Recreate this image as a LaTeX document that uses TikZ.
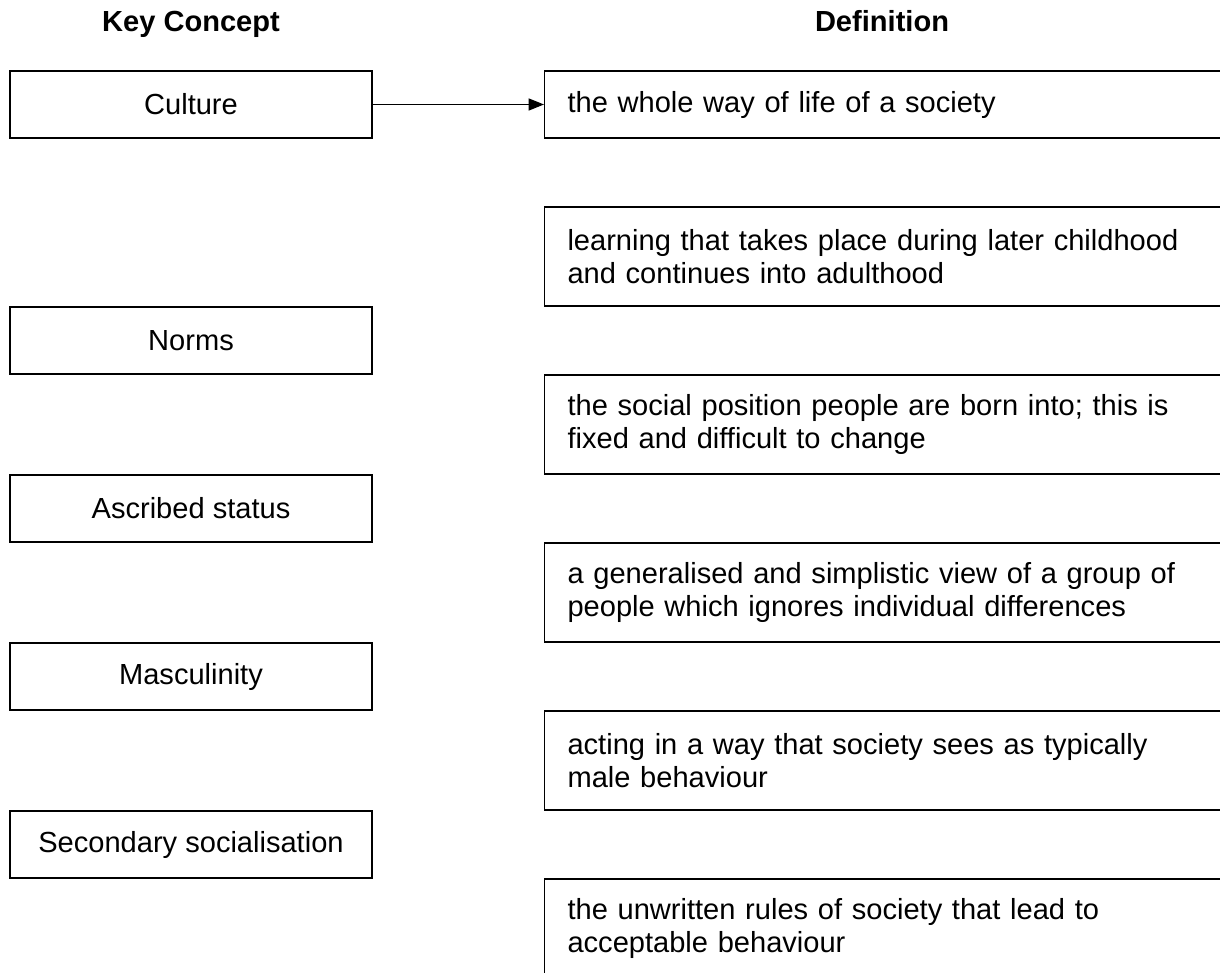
\documentclass[tikz,border=0pt]{standalone}
\usepackage{fontspec}
\setmainfont{Liberation Sans}
\usetikzlibrary{arrows.meta}
\begin{document}
\begin{tikzpicture}[x=0.75pt,y=-0.75pt,
  every node/.style={font=\fontsize{21.8pt}{24.75pt}\selectfont, text=black},
  concept/.style={draw=black, line width=0.8pt, minimum width=271.5pt, minimum height=50.25pt, inner sep=0pt},
  defbox/.style={draw=black, line width=0.8pt, anchor=west, text width=510pt, inner xsep=17.25pt, inner ysep=0pt, align=left},
  defone/.style={defbox, minimum height=50.25pt},
  deftwo/.style={defbox, minimum height=74.25pt},
  header/.style={font=\fontsize{21.8pt}{24.75pt}\selectfont\bfseries, anchor=base},
  link/.style={line width=0.8pt, -{Triangle[length=11.5pt,width=9pt]}}
]
\useasboundingbox (0,0) rectangle (1220,973);
\clip (0,0) rectangle (1220,973);
\node[header] (hk) at (191,32) {Key Concept};
\node[header] (hd) at (882,32) {Definition};

\node[concept] (c1) at (191,104.5) {Culture};
\node[concept] (c2) at (191,340.5) {Norms};
\node[concept] (c3) at (191,508.5) {Ascribed status};
\node[concept] (c4) at (191,676.5) {Masculinity};
\node[concept] (c5) at (191,844.5) {Secondary socialisation};

\node[defone] (d1) at (544,104.5) {the whole way of life of a society};
\node[deftwo] (d2) at (544,256.5) {learning that takes place during later childhood\\and continues into adulthood};
\node[deftwo] (d3) at (544,424.5) {the social position people are born into; this is\\fixed and difficult to change};
\node[deftwo] (d4) at (544,592.5) {a generalised and simplistic view of a group of\\people which ignores individual differences};
\node[deftwo] (d5) at (544,760.5) {acting in a way that society sees as typically\\male behaviour};
\node[deftwo] (d6) at (544,928.5) {the unwritten rules of society that lead to\\acceptable behaviour};

\draw[link] (c1.east) -- (d1.west);
\end{tikzpicture}
\end{document}
